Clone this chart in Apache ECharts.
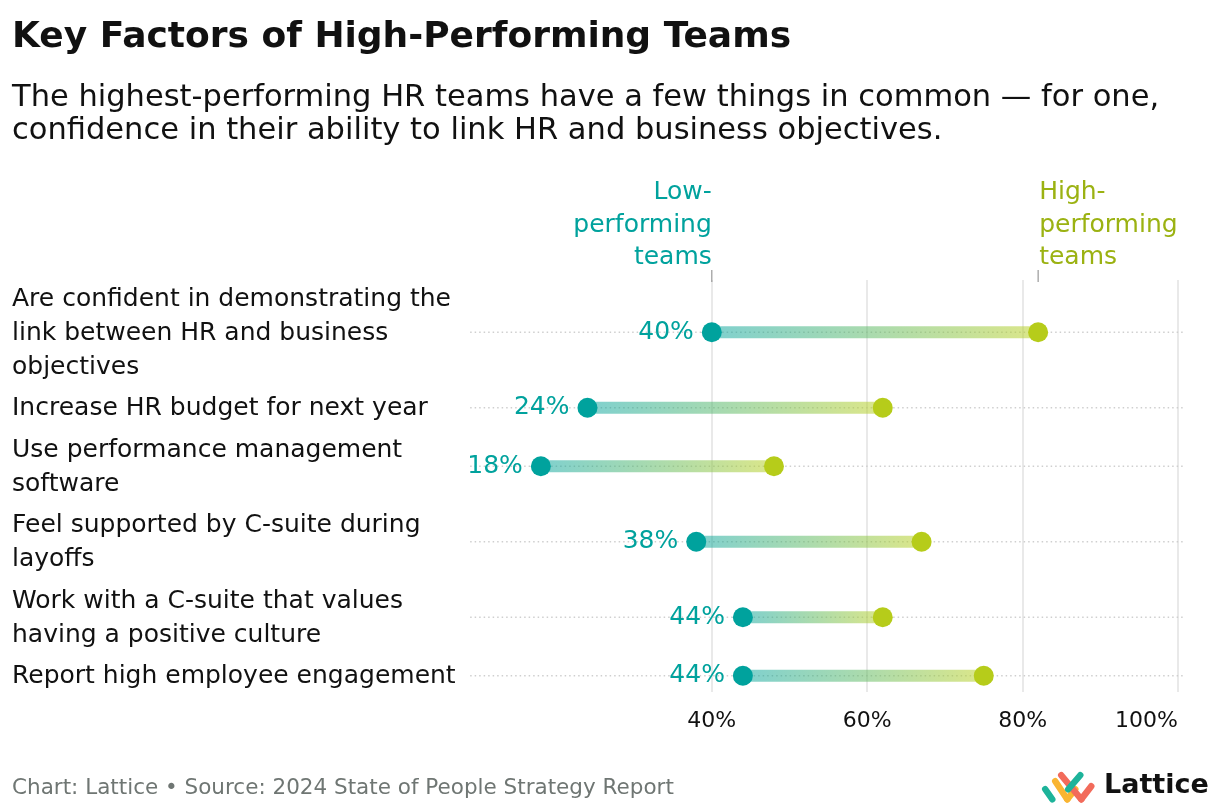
<!DOCTYPE html>
<html>
<head>
<meta charset="utf-8">
<script src="https://cdn.jsdelivr.net/npm/echarts@6/dist/echarts.min.js"></script>
<style>
html,body{margin:0;padding:0;background:#fff;}
#chart{width:1220px;height:812px;}
</style>
</head>
<body>
<div id="chart"></div>
<script>
// ---- Data ----
const categories = [
  'Are confident in demonstrating the\nlink between HR and business\nobjectives',
  'Increase HR budget for next year',
  'Use performance management\nsoftware',
  'Feel supported by C-suite during\nlayoffs',
  'Work with a C-suite that values\nhaving a positive culture',
  'Report high employee engagement'
];
const lowValues = [40, 24, 18, 38, 44, 44];
const highValues = [82, 62, 48, 67, 62, 75];
const xTickValues = [40, 60, 80, 100];
const lowSeriesName = 'Low-\nperforming\nteams';
const highSeriesName = 'High-\nperforming\nteams';
const titleText = 'Key Factors of High-Performing Teams';
const subtitleText = 'The highest-performing HR teams have a few things in common — for one,\nconfidence in their ability to link HR and business objectives.';
const footerText = 'Chart: Lattice • Source: 2024 State of People Strategy Report';
const brandText = 'Lattice';

// ---- Layout helpers (row heights follow label line counts) ----
const LINE = 34, GAP = 7.5;
const rowCenters = [];
let acc = 0;
categories.forEach(c => {
  const h = c.split('\n').length * LINE + GAP;
  rowCenters.push(acc + h / 2);
  acc += h;
});
const totalH = acc;

const TEAL = '#00A29D';
const LIME = '#B6CC1A';
const HIGH_TEXT = '#9BB212';
const FONT = '"DejaVu Sans", Inter, sans-serif';

const rowData = categories.map((c, i) => [i, lowValues[i], highValues[i], rowCenters[i]]);

const chart = echarts.init(document.getElementById('chart'));

function renderRow(params, api) {
  const i = api.value(0);
  const y = api.value(3);
  const pL = api.coord([api.value(1), y]);
  const pH = api.coord([api.value(2), y]);
  const s = api.coord([8.9, y]);
  const e = api.coord([100.9, y]);
  const children = [
    {
      type: 'line',
      shape: { x1: s[0], y1: s[1], x2: e[0], y2: e[1] },
      style: { stroke: '#cfcfcf', lineWidth: 1.5, lineDash: [1.5, 3] }
    },
    {
      type: 'rect',
      shape: { x: pL[0], y: pL[1] - 6, width: pH[0] - pL[0], height: 12 },
      style: {
        fill: new echarts.graphic.LinearGradient(0, 0, 1, 0, [
          { offset: 0, color: 'rgba(0,162,157,0.5)' },
          { offset: 1, color: 'rgba(190,210,40,0.55)' }
        ])
      }
    },
    {
      type: 'text',
      style: {
        text: categories[i], x: 12, y: pL[1] + 1,
        align: 'left', verticalAlign: 'middle',
        fontSize: 25, fontFamily: FONT, lineHeight: LINE, fill: '#111'
      }
    }
  ];
  if (i === 0) {
    children.push(
      { type: 'line', shape: { x1: pL[0], y1: 270, x2: pL[0], y2: 282 }, style: { stroke: '#999', lineWidth: 1.2 } },
      { type: 'line', shape: { x1: pH[0], y1: 270, x2: pH[0], y2: 282 }, style: { stroke: '#999', lineWidth: 1.2 } },
      { type: 'text', style: { text: lowSeriesName, x: pL[0], y: 225, align: 'right', verticalAlign: 'middle', fontSize: 25, fontFamily: FONT, lineHeight: 32.5, fill: TEAL } },
      { type: 'text', style: { text: highSeriesName, x: pH[0] + 1, y: 225, align: 'left', verticalAlign: 'middle', fontSize: 25, fontFamily: FONT, lineHeight: 32.5, fill: HIGH_TEXT } }
    );
  }
  return { type: 'group', children };
}

const option = {
  backgroundColor: '#fff',
  animation: false,
  textStyle: { fontFamily: FONT },
  grid: { left: 401, right: 42, top: 280, bottom: 120, containLabel: false },
  xAxis: {
    type: 'value', min: 0, max: 100, interval: 20,
    axisLine: { show: false }, axisTick: { show: false },
    axisLabel: {
      margin: 18, fontSize: 22, color: '#111', fontFamily: FONT,
      alignMaxLabel: 'right',
      formatter: v => xTickValues.indexOf(v) >= 0 ? v + '%' : ''
    },
    splitLine: {
      show: true,
      lineStyle: { color: ['rgba(0,0,0,0)', 'rgba(0,0,0,0)', '#e2e2e2', '#e2e2e2', '#e2e2e2', '#e2e2e2'], width: 1.5 }
    }
  },
  yAxis: {
    type: 'value', inverse: true, min: 2.5, max: totalH - 4.5, show: false
  },
  series: [
    {
      type: 'custom', name: 'rows', renderItem: renderRow, data: rowData, z: 1,
      encode: { x: [1, 2], y: 3 }
    },
    {
      type: 'scatter', name: 'Low-performing teams', z: 3,
      data: lowValues.map((v, i) => [v, rowCenters[i]]),
      symbolSize: 20, itemStyle: { color: TEAL, opacity: 1 },
      label: {
        show: true, position: 'left', distance: 8,
        formatter: p => p.value[0] + '%',
        fontSize: 25, color: TEAL, fontFamily: FONT
      }
    },
    {
      type: 'scatter', name: 'High-performing teams', z: 3,
      data: highValues.map((v, i) => [v, rowCenters[i]]),
      symbolSize: 20, itemStyle: { color: LIME, opacity: 1 }
    }
  ],
  graphic: [
    { type: 'text', left: 12, top: 20, style: { text: titleText, fontSize: 36, fontWeight: 'bold', fontFamily: FONT, fill: '#111' } },
    { type: 'text', left: 12, top: 82, style: { text: subtitleText, fontSize: 30.5, lineHeight: 33, fontFamily: FONT, fill: '#111' } },
    { type: 'text', left: 12, top: 777, style: { text: footerText, fontSize: 21.5, fontFamily: FONT, fill: '#6f7673' } },
    { type: 'text', left: 1104, top: 772, style: { text: brandText, fontSize: 27, fontWeight: 'bold', fontFamily: FONT, fill: '#111' } },
    {
      type: 'group', left: 1042, top: 772,
      children: [
        { type: 'line', shape: { x1: 4, y1: 18, x2: 11, y2: 28 }, style: { stroke: '#1DB39A', lineWidth: 6.5, lineCap: 'round' } },
        { type: 'line', shape: { x1: 14, y1: 10, x2: 26, y2: 28 }, style: { stroke: '#F9B532', lineWidth: 6.5, lineCap: 'round' } },
        { type: 'line', shape: { x1: 26, y1: 28, x2: 34, y2: 18 }, style: { stroke: '#F9B532', lineWidth: 6.5, lineCap: 'round' } },
        { type: 'line', shape: { x1: 20, y1: 4, x2: 40, y2: 28 }, style: { stroke: '#F26B5B', lineWidth: 6.5, lineCap: 'round' } },
        { type: 'line', shape: { x1: 27, y1: 18, x2: 39, y2: 4 }, style: { stroke: '#1DB39A', lineWidth: 6.5, lineCap: 'round' } },
        { type: 'line', shape: { x1: 40, y1: 28, x2: 50, y2: 15 }, style: { stroke: '#F26B5B', lineWidth: 6.5, lineCap: 'round' } }
      ]
    }
  ]
};
chart.setOption(option);
</script>
</body>
</html>
